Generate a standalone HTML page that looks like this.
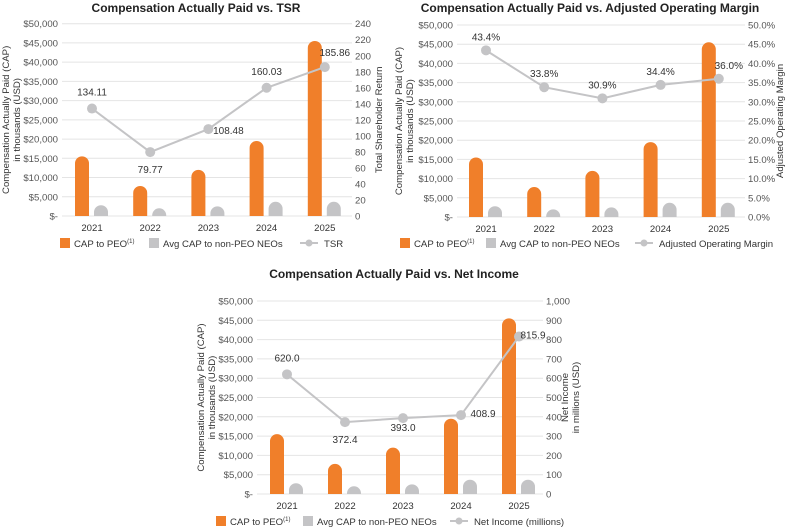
<!DOCTYPE html>
<html><head><meta charset="utf-8"><style>
body{margin:0;background:#fff;}
svg{display:block;font-family:"Liberation Sans",sans-serif;}
</style></head><body>
<svg id="c" width="789" height="531" viewBox="0 0 789 531"></svg>
<script>
const years = ["2021","2022","2023","2024","2025"];
const capPeo = [15500, 7800, 12000, 19500, 45500];
const capNonPeo = [2800, 2000, 2500, 3700, 3700];
const tsr = [134.11, 79.77, 108.48, 160.03, 185.86];
const tsrLabels = ["134.11","79.77","108.48","160.03","185.86"];
const margin = [43.4, 33.8, 30.9, 34.4, 36.0];
const marginLabels = ["43.4%","33.8%","30.9%","34.4%","36.0%"];
const netIncome = [620.0, 372.4, 393.0, 408.9, 815.9];
const niLabels = ["620.0","372.4","393.0","408.9","815.9"];
const leftTicks = ["$-","$5,000","$10,000","$15,000","$20,000","$25,000","$30,000","$35,000","$40,000","$45,000","$50,000"];
const tsrTicks = ["0","20","40","60","80","100","120","140","160","180","200","220","240"];
const marginTicks = ["0.0%","5.0%","10.0%","15.0%","20.0%","25.0%","30.0%","35.0%","40.0%","45.0%","50.0%"];
const niTicks = ["0","100","200","300","400","500","600","700","800","900","1,000"];

const svg = document.getElementById('c');
const NS = 'http://www.w3.org/2000/svg';
const FS = 9.6;
function mk(tag, attrs, parent){const e=document.createElementNS(NS,tag);for(const k in attrs)e.setAttribute(k,attrs[k]);(parent||svg).appendChild(e);return e;}
function txt(s, attrs, parent){const e=mk('text',attrs,parent);e.textContent=s;return e;}

function chart(cfg){
  const g = mk('g',{});
  
  
  const yL = v => cfg.y0 - (v/50000)*(cfg.y0-cfg.y1);
  const yR = v => cfg.y0 - (v/cfg.rmax)*(cfg.y0-cfg.y1);
  const xC = i => cfg.xc0 + i*cfg.step;
  const t = txt(cfg.title,{x:cfg.tx,y:cfg.ty,'text-anchor':'middle','font-size':12,'font-weight':'bold',fill:'#222'},g);
  
  
  leftTicks.forEach((s,i)=>{
    const v=i*5000,y=yL(v);
    mk('line',{x1:cfg.gx0,x2:cfg.gx1,y1:y,y2:y,stroke:'#e4e4e4','stroke-width':1},g);
    txt(s,{x:cfg.gx0-4,y:y+3.5,'text-anchor':'end','font-size':FS,fill:'#555'},g);
  });
  cfg.rticks.forEach((s,i)=>{
    const v=i*cfg.rmax/(cfg.rticks.length-1);
    txt(s,{x:cfg.gx1+3,y:yR(v)+3.5,'font-size':FS,fill:'#555'},g);
  });
  const lt = txt('',{transform:`translate(${cfg.ltx},${(cfg.y0+cfg.y1)/2}) rotate(-90)`,'text-anchor':'middle','font-size':FS,fill:'#333'},g);
  
  
  ['Compensation Actually Paid (CAP)','in thousands (USD)'].forEach((s,i)=>{const ts=mk('tspan',{x:0,dy:i?11:0},lt);ts.textContent=s;});
  const rt = txt('',{transform:`translate(${cfg.rtx},${(cfg.y0+cfg.y1)/2}) rotate(-90)`,'text-anchor':'middle','font-size':FS,fill:'#333'},g);
  
  
  cfg.rtitle.forEach((s,i)=>{const ts=mk('tspan',{x:0,dy:i?11:0},rt);ts.textContent=s;});
  const bw=14;
  function bar(cx,v,col,name){
    const top=yL(v),h=cfg.y0-top,r=Math.min(7,h);
    const p=mk('path',{d:`M${cx-bw/2},${cfg.y0} L${cx-bw/2},${top+r} A7,${r} 0 0 1 ${cx+bw/2},${top+r} L${cx+bw/2},${cfg.y0} Z`,fill:col},g);
    
    
  }
  years.forEach((yr,i)=>{
    bar(xC(i)-10,capPeo[i],'#f07f2a','bar-cap-peo-'+yr);
    bar(xC(i)+9,capNonPeo[i],'#c4c4c6','bar-cap-non-peo-'+yr);
    txt(yr,{x:xC(i),y:cfg.y0+15,'text-anchor':'middle','font-size':FS,fill:'#333'},g);
  });
  const pts=cfg.line.map((v,i)=>[xC(i),yR(v)]);
  const pl=mk('polyline',{points:pts.map(p=>p.join(',')).join(' '),fill:'none',stroke:'#c4c4c6','stroke-width':2},g);
  
  
  pts.forEach((p,i)=>{
    const c=mk('circle',{cx:p[0],cy:p[1],r:5,fill:'#c4c4c6'},g);
    
    
    const o=cfg.lblOff[i];
    txt(cfg.labels[i],{x:p[0]+o[0],y:p[1]+o[1],'text-anchor':'middle','font-size':FS+0.4,fill:'#333'},g);
  });
  const L=cfg.leg, ly=L.y;
  mk('rect',{x:L.x[0],y:ly-9,width:10,height:10,fill:'#f07f2a'},g);
  const a=txt('CAP to PEO',{x:L.x[0]+14,y:ly,'font-size':FS,fill:'#333'},g);
  const sup=mk('tspan',{'font-size':6,dy:-4},a);sup.textContent='(1)';
  mk('rect',{x:L.x[1],y:ly-9,width:10,height:10,fill:'#c4c4c6'},g);
  txt('Avg CAP to non-PEO NEOs',{x:L.x[1]+14,y:ly,'font-size':FS,fill:'#333'},g);
  mk('line',{x1:L.x[2],x2:L.x[2]+18,y1:ly-4,y2:ly-4,stroke:'#c4c4c6','stroke-width':2},g);
  mk('circle',{cx:L.x[2]+9,cy:ly-4,r:3.5,fill:'#c4c4c6'},g);
  txt(cfg.legLine,{x:L.x[2]+24,y:ly,'font-size':FS,fill:'#333'},g);
}

chart({name:'chart-cap-vs-tsr',title:'Compensation Actually Paid vs. TSR',tx:196,ty:12,
  y0:216,y1:23.7,gx0:62,gx1:352,xc0:92,step:58.2,rmax:240,rticks:tsrTicks,
  ltx:9,rtx:382,rtitle:['Total Shareholder Return'],line:tsr,labels:tsrLabels,
  lblOff:[[0,-13],[0,21],[20,5],[0,-13],[10,-11]],leg:{y:247,x:[60,149,300]},legLine:'TSR'});
chart({name:'chart-cap-vs-margin',title:'Compensation Actually Paid vs. Adjusted Operating Margin',tx:590,ty:12,
  y0:217,y1:25,gx0:457,gx1:745,xc0:486,step:58.2,rmax:50,rticks:marginTicks,
  ltx:402,rtx:783,rtitle:['Adjusted Operating Margin'],line:margin,labels:marginLabels,
  lblOff:[[0,-10],[0,-10],[0,-10],[0,-10],[10,-10]],leg:{y:247,x:[400,486,635]},legLine:'Adjusted Operating Margin'});
chart({name:'chart-cap-vs-net-income',title:'Compensation Actually Paid vs. Net Income',tx:394,ty:278,
  y0:494,y1:301,gx0:257,gx1:543,xc0:287,step:58,rmax:1000,rticks:niTicks,
  ltx:204,rtx:568,rtitle:['Net Income','in millions (USD)'],line:netIncome,labels:niLabels,
  lblOff:[[0,-13],[0,21],[0,13],[22,2],[14,2]],leg:{y:525,x:[216,303,450]},legLine:'Net Income (millions)'});
</script>
</body></html>
